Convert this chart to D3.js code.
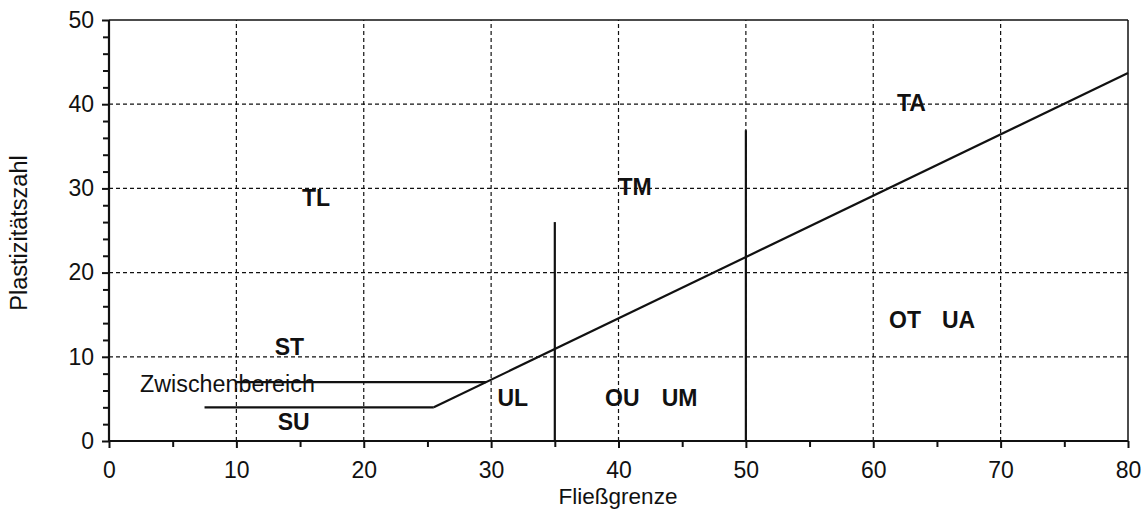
<!DOCTYPE html>
<html><head><meta charset="utf-8">
<script src="https://cdn.jsdelivr.net/npm/d3@7"></script>
<style>
body{margin:0;background:#fff;}
svg{display:block;font-family:"Liberation Sans",Arial,sans-serif;}
</style></head>
<body><svg id="c" width="1145" height="510"></svg>
<script>
const xTicks = [0,10,20,30,40,50,60,70,80];
const yTicks = [0,10,20,30,40,50];
const xMinor = [5,15,25,35,45,55,65,75];
const yMinor = [2,4,6,8,12,14,16,18,22,24,26,28,32,34,36,38,42,44,46,48];
const aLine = [[25.5,4],[80,43.7]];
const suLine = [[7.5,4],[25.5,4]];
const zwLine = [[10,7],[29.6,7]];
const v35 = [[35,0],[35,26]];
const v50 = [[50,0],[50,36.9]];
const labelText = ["TL","TM","TA","ST","SU","UL","OU","UM","OT","UA"];
const labelX = [16.25,41.3,63.0,14.17,14.5,31.7,40.3,44.8,62.5,66.7];
const labelY = [27.9,29.2,39.2,10.2,1.3,4.2,4.2,4.2,13.4,13.4];
const zwText = "Zwischenbereich";
const zwPos = [9.3,5.8];

const svg = d3.select("#c");
const ink = "#111";
const x = d3.scaleLinear().domain([0,80]).range([109,1128]);
const y = d3.scaleLinear().domain([0,50]).range([441,20]);

// grid
const g = svg.append("g");
g.selectAll(".gx").data(xTicks.filter(d=>d>0&&d<80)).enter().append("line")
 .attr("x1",d=>x(d)).attr("x2",d=>x(d)).attr("y1",y(0)).attr("y2",y(50))
 .attr("stroke",ink).attr("stroke-width",1.2).attr("stroke-dasharray","4,3");
g.selectAll(".gy").data(yTicks.filter(d=>d>0&&d<50)).enter().append("line")
 .attr("y1",d=>y(d)).attr("y2",d=>y(d)).attr("x1",x(0)).attr("x2",x(80))
 .attr("stroke",ink).attr("stroke-width",1.2).attr("stroke-dasharray","4,3");

// frame top/right
svg.append("line").attr("x1",x(0)).attr("x2",x(80)).attr("y1",y(50)).attr("y2",y(50)).attr("stroke",ink).attr("stroke-width",1.5);
svg.append("line").attr("x1",x(80)).attr("x2",x(80)).attr("y1",y(0)).attr("y2",y(50)).attr("stroke",ink).attr("stroke-width",1.5);

// axes
const xAxis = d3.axisBottom(x).tickValues(xTicks).tickSize(7).tickPadding(14).tickFormat(d3.format("d"));
const yAxis = d3.axisLeft(y).tickValues(yTicks).tickSize(7).tickPadding(8).tickFormat(d3.format("d"));
const gx = svg.append("g").attr("transform",`translate(0,${y(0)})`).call(xAxis);
const gy = svg.append("g").attr("transform",`translate(${x(0)},0)`).call(yAxis);
[gx,gy].forEach(a=>{
  a.select(".domain").attr("stroke",ink).attr("stroke-width",2.2);
  a.selectAll(".tick line").attr("stroke",ink).attr("stroke-width",2);
  a.selectAll(".tick text").attr("fill",ink).attr("font-size",23).attr("font-family","Liberation Sans, Arial, sans-serif");
});
gy.select(".domain").attr("d",`M0,${y(0)}V${y(50)}`);
gx.select(".domain").attr("d",`M${x(0)},0H${x(80)}`);
svg.append("g").attr("transform",`translate(0,${y(0)})`).call(d3.axisBottom(x).tickValues(xMinor).tickSize(6).tickFormat(""))
 .call(a=>{a.select(".domain").remove();a.selectAll(".tick line").attr("stroke",ink).attr("stroke-width",2);});
svg.append("g").attr("transform",`translate(${x(0)},0)`).call(d3.axisLeft(y).tickValues(yMinor).tickSize(6).tickFormat(""))
 .call(a=>{a.select(".domain").remove();a.selectAll(".tick line").attr("stroke",ink).attr("stroke-width",2);});

// data lines
const line = d3.line().x(d=>x(d[0])).y(d=>y(d[1]));
[aLine,suLine,zwLine,v35,v50].forEach(p=>{
  svg.append("path").attr("d",line(p)).attr("fill","none").attr("stroke",ink).attr("stroke-width",2.2);
});

// labels
svg.append("text").attr("x",x(zwPos[0])).attr("y",y(zwPos[1])).attr("text-anchor","middle")
 .attr("font-size",23.3).attr("fill",ink).text(zwText);
labelText.forEach((t,i)=>{
  svg.append("text").attr("x",x(labelX[i])).attr("y",y(labelY[i])).attr("text-anchor","middle")
   .attr("font-size",23).attr("font-weight","bold").attr("fill",ink).text(t);
});

// axis titles
svg.append("text").attr("x",618).attr("y",504).attr("text-anchor","middle").attr("font-size",22.5).attr("fill",ink).text("Fließgrenze");
svg.append("text").attr("transform","translate(27,233) rotate(-90)").attr("text-anchor","middle").attr("font-size",23.5).attr("fill",ink).text("Plastizitätszahl");
</script></body></html>
